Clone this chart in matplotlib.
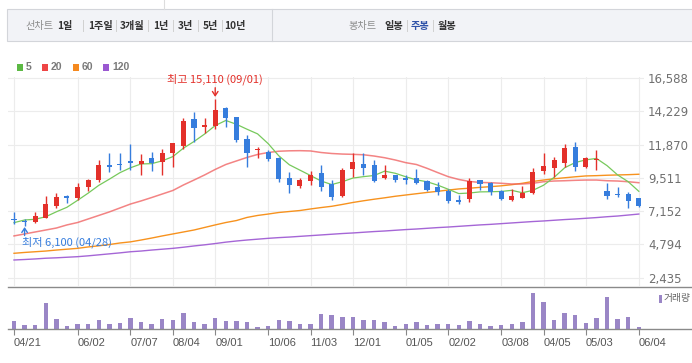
import matplotlib.pyplot as plt
import numpy as np
from matplotlib.lines import Line2D
from matplotlib.patches import Rectangle

plt.rcParams['font.family'] = ['Noto Sans CJK KR', 'DejaVu Sans']

# weekly candles, 04/21 .. 06/04
opens = [6560, 6440, 6390, 6690, 7540, 8180, 8110, 8890, 9380, 10400,
         10500, 10710, 10500, 10920, 10660, 11300, 11790, 13680, 13150, 13210,
         14480, 13830, 12250, 11500, 11320, 10940, 9500, 8940, 9310, 9860,
         9060, 8230, 10160, 10520, 10400, 9500, 9720, 9500, 9500, 9290,
         8890, 8580, 7920, 8020, 9340, 9170, 8580, 7950, 8110, 8460,
         10000, 10230, 10590, 11680, 10310, 10800, 8580, 8350, 8350, 8070]
highs = [7080, 6580, 7070, 8230, 8420, 8320, 9150, 9430, 10780, 11280,
         11300, 11910, 11200, 11370, 11560, 11990, 13780, 14180, 13780, 15110,
         14560, 13850, 12550, 11700, 11490, 10960, 9910, 9480, 10020, 10430,
         9360, 10190, 11300, 11300, 10780, 10430, 9730, 9700, 10140, 9360,
         9240, 8700, 8300, 9480, 9350, 9240, 8650, 8700, 8940, 10190,
         11300, 10990, 11910, 12030, 11000, 11490, 9130, 8850, 8530, 8070]
lows = [6240, 6100, 6340, 6650, 7400, 7760, 7950, 8580, 9200, 9950,
        10070, 10070, 9720, 10020, 9720, 10310, 11560, 12080, 12670, 12980,
        13140, 12080, 10310, 10940, 10730, 9240, 8460, 8820, 9010, 8600,
        7950, 8180, 9600, 9720, 9220, 9430, 9200, 9080, 9080, 8600,
        8300, 7710, 7660, 7830, 8650, 8300, 7950, 7900, 8070, 8370,
        9790, 9600, 10310, 10000, 10230, 10070, 8040, 8140, 7400, 7430]
closes = [6530, 6410, 6810, 7660, 8160, 8110, 8870, 9360, 10430, 10330,
          10440, 10590, 10710, 10550, 11300, 11980, 13540, 13070, 13200, 14320,
          13780, 12200, 11300, 11580, 10850, 9460, 9030, 9360, 9720, 8890,
          8180, 10070, 10640, 10230, 9290, 9700, 9360, 9360, 9130, 8650,
          8510, 7900, 7830, 9290, 9080, 8530, 8020, 8230, 8460, 9910,
          10350, 10780, 11630, 10310, 10900, 10850, 8230, 8320, 7900, 7520]

ma5 = [6340, 6530, 6580, 6760, 7110, 7430, 7920, 8430, 8980, 9420,
       9880, 10230, 10500, 10520, 10720, 11020, 11620, 12090, 12620, 13220,
       13580, 13310, 12960, 12630, 11940, 11080, 10440, 10060, 9680, 9290,
       9040, 9240, 9500, 9600, 9680, 9990, 9840, 9590, 9370, 9240,
       9000, 8710, 8400, 8440, 8520, 8530, 8550, 8630, 8460, 8630,
       8990, 9550, 10230, 10600, 10790, 10890, 10380, 9720, 9240, 8560]
ma20 = [5400, 5540, 5680, 5820, 5960, 6180, 6350, 6600, 6850, 7100,
        7380, 7660, 7880, 8120, 8370, 8620, 9010, 9360, 9720, 10110,
        10460, 10710, 10960, 11170, 11310, 11400, 11430, 11440, 11420, 11310,
        11240, 11200, 11180, 11150, 11060, 10940, 10780, 10590, 10460, 10190,
        9890, 9600, 9400, 9260, 9190, 9170, 9130, 9080, 9080, 9130,
        9240, 9290, 9310, 9340, 9360, 9360, 9310, 9290, 9240, 9170]
ma60 = [4170, 4230, 4280, 4330, 4400, 4460, 4520, 4620, 4700, 4790,
        4900, 4980, 5110, 5250, 5400, 5540, 5680, 5820, 6000, 6180,
        6350, 6490, 6710, 6850, 6950, 7060, 7130, 7200, 7310, 7410,
        7500, 7630, 7770, 7890, 8000, 8100, 8210, 8300, 8390, 8480,
        8560, 8650, 8730, 8780, 8840, 8890, 8950, 9030, 9130, 9260,
        9360, 9450, 9520, 9590, 9650, 9670, 9700, 9720, 9740, 9770]
ma120 = [3695, 3730, 3770, 3820, 3850, 3890, 3930, 3990, 4060, 4130,
         4200, 4280, 4330, 4400, 4460, 4520, 4600, 4690, 4770, 4860,
         4960, 5040, 5110, 5170, 5230, 5280, 5320, 5370, 5420, 5470,
         5520, 5570, 5610, 5660, 5710, 5750, 5800, 5850, 5890, 5940,
         5990, 6030, 6080, 6130, 6180, 6220, 6270, 6320, 6370, 6420,
         6460, 6510, 6560, 6600, 6650, 6700, 6760, 6810, 6880, 6950]
volumes = [83, 43, 43, 267, 103, 33, 53, 53, 93, 53,
           63, 113, 73, 53, 103, 93, 163, 73, 53, 113,
           83, 83, 73, 23, 33, 93, 83, 53, 53, 153,
           143, 123, 123, 93, 93, 73, 33, 53, 73, 43,
           53, 53, 43, 83, 53, 33, 43, 53, 73, 367,
           273, 93, 163, 147, 63, 113, 323, 103, 123, 23]

tick_idx = [0, 6, 11, 15, 19, 24, 28, 32, 37, 41, 46, 50, 54, 59]
tick_labels = ['04/21', '06/02', '07/07', '08/04', '09/01', '10/06', '11/03',
               '12/01', '01/05', '02/02', '03/08', '04/05', '05/03', '06/04']
price_ticks = [2435, 4794, 7152, 9511, 11870, 14229, 16588]

RED = '#e3302a'
BLUE = '#367ddd'
W, H = 692, 363


def fx(px):
    return px / W


def fy(py):
    return 1 - py / H


fig = plt.figure(figsize=(W / 100, H / 100), dpi=100)

# ---- header bar
fig.add_artist(Rectangle((fx(7), fy(41)), (700 - 7) / W, 32 / H, transform=fig.transFigure,
                         facecolor='#f2f3f7', edgecolor='#d3d5da', lw=0.8))
fig.add_artist(Line2D([fx(272), fx(272)], [fy(9), fy(41)], color='#d3d5da', lw=0.8))
fig.add_artist(Line2D([fx(164), fx(164)], [fy(0), fy(9)], color='#dddddd', lw=0.8))

hdr_y = fy(25.5)
hdr_fs = 7.3
fig.text(fx(40), hdr_y, '선차트', ha='center', va='center', fontsize=hdr_fs, color='#8c8c8c')
for lab, cx in [('1일', 65), ('1주일', 100), ('3개월', 132), ('1년', 161),
                ('3년', 185), ('5년', 210), ('10년', 235)]:
    fig.text(fx(cx), hdr_y, lab, ha='center', va='center', fontsize=hdr_fs,
             fontweight='bold', color='#333333')
for sx in [83, 115.5, 148, 173, 197.5, 222]:
    fig.add_artist(Line2D([fx(sx), fx(sx)], [fy(20), fy(31)], color='#d0d0d0', lw=0.7))
fig.text(fx(363), hdr_y, '봉차트', ha='center', va='center', fontsize=hdr_fs, color='#8c8c8c')
for lab, cx, col in [('일봉', 394, '#333333'), ('주봉', 420, '#2f52a8'), ('월봉', 447, '#333333')]:
    fig.text(fx(cx), hdr_y, lab, ha='center', va='center', fontsize=hdr_fs,
             fontweight='bold', color=col)
for sx in [407, 433]:
    fig.add_artist(Line2D([fx(sx), fx(sx)], [fy(20), fy(31)], color='#d0d0d0', lw=0.7))

# ---- legend
for lab, sq, col in [('5', 17, '#5cb944'), ('20', 42, '#ee4545'),
                     ('60', 73, '#f5891f'), ('120', 103, '#9a58d1')]:
    fig.add_artist(Rectangle((fx(sq), fy(70.5)), 6 / W, 6 / H, transform=fig.transFigure,
                             facecolor=col, edgecolor='none'))
    fig.text(fx(sq + 9), fy(67.5), lab, ha='left', va='center', fontsize=7.5,
             fontweight='bold', color='#7a7a7a', family='Liberation Sans')

# ---- price panel
x = np.arange(len(closes))
o = np.array(opens)
c = np.array(closes)
cols = np.where(c >= o, RED, BLUE)

ax = fig.add_axes([fx(8), fy(286), 636 / W, 209 / H])
ax.set_xlim(-0.567, 59.49)
ax.set_ylim(1853, 16659)

ax.plot(x, ma120, color='#a566d6', lw=1.0, zorder=2)
ax.plot(x, ma60, color='#f7921e', lw=1.0, zorder=2)
ax.plot(x, ma20, color='#f06565', lw=1.1, alpha=0.8, zorder=2)
ax.plot(x, ma5, color='#77c95c', lw=0.9, zorder=2)

ax.vlines(x, lows, highs, colors=cols, lw=1.0, zorder=3)
mid = (o + c) / 2
body = np.maximum(np.abs(c - o), 100)
ax.bar(x, body, bottom=mid - body / 2, width=0.48, color=cols, zorder=4)

ax.set_yticks(price_ticks)
ax.set_yticklabels([f'{v:,}' for v in price_ticks])
ax.set_xticks(tick_idx)
ax.grid(color='#ececec', lw=0.8, zorder=0)
ax.yaxis.tick_right()
ax.tick_params(axis='y', length=0, pad=3, labelsize=8.5, labelcolor='#707070')
for t in ax.get_yticklabels():
    t.set_family('DejaVu Sans')
ax.tick_params(axis='x', length=0, labelbottom=False)
for s in ax.spines.values():
    s.set_visible(False)

# high / low marks
ax.text(19, 16517, '최고 15,110 (09/01)', ha='center', va='center', fontsize=8, color=RED)
ax.annotate('', xy=(19, 15250), xytext=(19, 15900),
            arrowprops=dict(arrowstyle='->,head_length=0.3,head_width=0.2', color=RED,
                            lw=1, shrinkA=0, shrinkB=0))
ax.text(0.75, 4921, '최저 6,100 (04/28)', ha='left', va='center', fontsize=8, color=BLUE)
ax.annotate('', xy=(1, 6030), xytext=(1, 5430),
            arrowprops=dict(arrowstyle='->,head_length=0.3,head_width=0.2', color=BLUE,
                            lw=1, shrinkA=0, shrinkB=0))

# ---- volume panel
axv = fig.add_axes([fx(8), fy(329.3), 636 / W, 42.3 / H])
axv.set_xlim(-0.567, 59.49)
axv.set_ylim(0, 423)
axv.bar(x, volumes, width=0.42, color='#9a86c6')
axv.set_yticks([])
axv.set_xticks(tick_idx)
axv.set_xticklabels(tick_labels, ha='left', family='Liberation Sans')
axv.tick_params(axis='x', length=4, width=0.8, color='#888888', pad=2.5,
                labelsize=8, labelcolor='#555555')
for s in axv.spines.values():
    s.set_visible(False)

fig.add_artist(Line2D([fx(8), fx(692)], [fy(286.5), fy(286.5)], color='#8a8a8a', lw=1))
fig.add_artist(Line2D([fx(8), fx(692)], [fy(329.3), fy(329.3)], color='#8a8a8a', lw=1))

fig.add_artist(Rectangle((fx(659), fy(302.5)), 3 / W, 7.5 / H, transform=fig.transFigure,
                         facecolor='#9a86c6', edgecolor='none'))
fig.text(fx(663.5), fy(298.5), '거래량', ha='left', va='center', fontsize=7, color='#666666')

fig.savefig('out.png', dpi=100)
